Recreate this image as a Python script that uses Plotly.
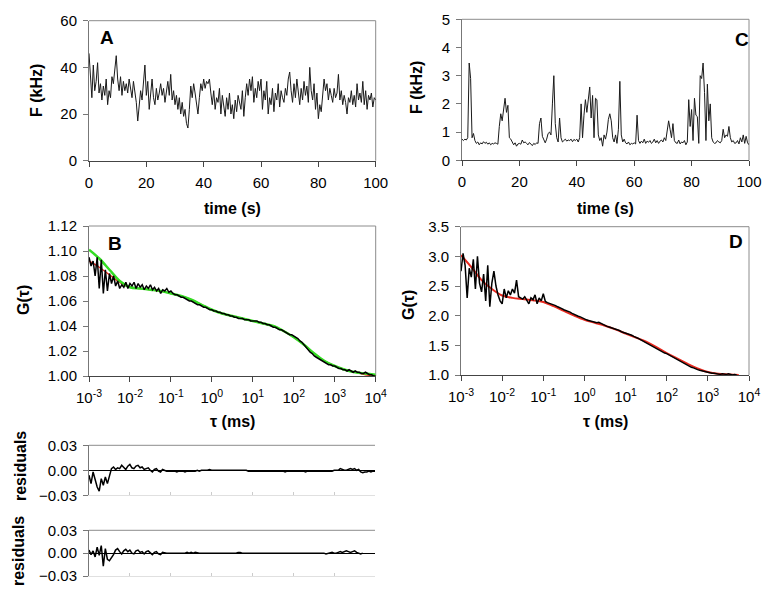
import numpy as np
import plotly.graph_objects as go

# ---------------- data ----------------
# Panel A: fluorescence trace (kHz), 0.5 s steps
trace_A = [46, 38, 27, 41, 30, 34, 42, 29, 33, 26,
           32, 28, 35, 24, 30, 27, 36, 33, 38, 45,
           35, 30, 36, 28, 34, 30, 33, 29, 35, 31,
           27, 34, 30, 25, 17, 23, 30, 26, 33, 41,
           28, 34, 22, 30, 35, 27, 24, 31, 26, 29,
           33, 28, 31, 25, 30, 34, 28, 37, 26, 30,
           24, 28, 22, 27, 20, 25, 19, 22, 16, 14,
           22, 32, 27, 33, 29, 25, 20, 27, 33, 30,
           35, 31, 34, 33, 35, 29, 24, 30, 22, 27,
           25, 31, 20, 28, 24, 19, 27, 22, 29, 20,
           24, 18, 26, 21, 28, 25, 22, 30, 19, 27,
           33, 28, 35, 30, 36, 25, 31, 27, 34, 30,
           35, 22, 30, 26, 34, 20, 27, 24, 31, 21,
           29, 26, 33, 23, 30, 27, 25, 31, 28, 35,
           38, 30, 25, 33, 27, 35, 29, 24, 31, 26,
           34, 28, 32, 25, 40, 30, 26, 33, 22, 29,
           18, 24, 21, 27, 35, 30, 33, 26, 31, 28,
           25, 31, 27, 29, 37, 26, 30, 24, 28, 25,
           20, 27, 25, 30, 24, 28, 23, 33, 26, 29,
           25, 34, 24, 30, 22, 28, 26, 29, 23, 27,
           26]

# Panel C: fluorescence trace (kHz), 0.5 s steps
trace_C = [0.75, 0.70, 0.75, 0.72, 0.80, 3.45, 2.90, 0.80, 0.95, 0.70,
           0.60, 0.65, 0.55, 0.62, 0.58, 0.66, 0.60, 0.64, 0.57, 0.62,
           0.55, 0.60, 0.58, 0.62, 0.60, 0.57, 1.20, 1.65, 1.40, 1.80,
           2.20, 1.70, 1.95, 0.80, 0.75, 0.65, 0.55, 0.62, 0.50, 0.58,
           0.60, 0.57, 0.72, 0.62, 0.65, 0.60, 0.55, 0.63, 0.58, 0.52,
           0.60, 0.56, 0.62, 0.60, 1.30, 1.50, 0.85, 0.70, 0.62, 0.75,
           0.95, 1.00, 0.90, 2.00, 3.00, 1.30, 0.80, 0.65, 1.50, 0.80,
           0.65, 0.70, 0.75, 0.68, 0.72, 0.70, 0.75, 0.66, 0.74, 0.70,
           0.75, 0.65, 0.80, 2.00, 0.80, 1.60, 2.15, 1.70, 2.30, 2.60,
           1.50, 2.30, 0.80, 2.20, 2.15, 0.90, 0.70, 0.80, 0.50, 0.90,
           0.75, 1.00, 1.45, 1.65, 1.40, 0.80, 0.65, 0.90, 0.60, 1.10,
           2.80, 0.90, 0.65, 0.75, 0.62, 0.58, 0.65, 0.55, 0.60, 0.58,
           0.62, 0.58, 1.60, 0.70, 0.60, 0.68, 0.62, 0.75, 0.60, 0.68,
           0.64, 0.70, 0.60, 0.65, 0.75, 0.62, 0.70, 0.60, 0.68, 0.72,
           0.65, 0.80, 0.70, 1.00, 1.40, 1.10, 0.80, 1.30, 0.70, 0.62,
           0.60, 0.72, 0.58, 0.65, 0.62, 0.70, 0.55, 0.65, 2.15, 1.20,
           1.80, 0.70, 2.20, 1.60, 1.55, 0.60, 3.00, 2.90, 3.45, 2.40,
           0.70, 2.70, 1.40, 2.00, 0.80, 0.65, 0.60, 0.62, 0.70, 0.65,
           0.62, 0.70, 1.10, 0.80, 0.90, 0.85, 1.20, 0.80, 0.65, 0.70,
           0.60, 0.62, 0.70, 0.58, 0.80, 0.65, 0.90, 0.60, 0.85, 0.62,
           0.55]

# Panel B: correlation data (0.05-decade steps from 1e-3 ms)
G_B = [1.095, 1.088, 1.092, 1.080, 1.095, 1.070, 1.093, 1.066, 1.085, 1.068,
       1.082, 1.074, 1.080, 1.072, 1.076, 1.070, 1.073, 1.071, 1.075, 1.070,
       1.074,
       1.072, 1.075, 1.070, 1.074, 1.071, 1.073, 1.069, 1.072, 1.070, 1.073,
       1.069, 1.071, 1.068, 1.070, 1.066, 1.069, 1.068, 1.070, 1.067, 1.068,
       1.066, 1.065, 1.065, 1.064, 1.063, 1.063, 1.062, 1.061, 1.060, 1.060,
       1.059, 1.058, 1.057, 1.057, 1.056, 1.055, 1.055, 1.054, 1.053, 1.053,
       1.052, 1.052, 1.051, 1.051, 1.050, 1.050, 1.049, 1.049, 1.048, 1.048,
       1.047, 1.047, 1.046, 1.046, 1.046, 1.045, 1.045, 1.045, 1.044, 1.044,
       1.044, 1.044, 1.043, 1.043, 1.042, 1.042, 1.041, 1.041, 1.040, 1.039,
       1.039, 1.038, 1.037, 1.037, 1.036, 1.035, 1.034, 1.033, 1.033, 1.032,
       1.031, 1.030, 1.028, 1.027, 1.025, 1.023, 1.021, 1.019, 1.018, 1.016,
       1.015, 1.014, 1.013, 1.012, 1.011, 1.010, 1.009, 1.009, 1.008, 1.008,
       1.007, 1.006, 1.006, 1.005, 1.005, 1.004, 1.005, 1.004, 1.003, 1.004,
       1.003, 1.003, 1.002, 1.002, 1.003, 1.002, 1.001, 1.001, 1.000, 1.000]

# Panel B fits (0.25-decade steps from 1e-3 ms)
fit_B_green = [1.101, 1.094, 1.085, 1.076, 1.071, 1.070, 1.069, 1.068, 1.066,
               1.064, 1.061, 1.057, 1.053, 1.050, 1.048, 1.046, 1.044, 1.042,
               1.040, 1.036, 1.031, 1.025, 1.018, 1.012, 1.008, 1.005, 1.003,
               1.002, 1.001]
fit_B_red = [1.092, 1.087, 1.081, 1.075, 1.071, 1.070, 1.069, 1.068, 1.066,
             1.064, 1.061, 1.057, 1.053, 1.050, 1.048, 1.046, 1.044, 1.042,
             1.040, 1.036, 1.031, 1.025, 1.018, 1.012, 1.008, 1.005, 1.003,
             1.001, 1.000]

# Panel D: correlation data (0.05-decade steps from 1e-3 ms)
G_D = [2.75, 3.05, 2.85, 2.30, 2.80, 2.65, 2.95, 2.45, 3.00, 2.55,
       2.40, 2.70, 2.25, 2.85, 2.15, 2.55, 2.75, 2.50, 2.35, 2.25,
       2.20, 2.45, 2.30, 2.42, 2.35, 2.45, 2.38, 2.60, 2.32, 2.30,
       2.28, 2.32, 2.25, 2.20, 2.30, 2.27, 2.35, 2.20, 2.30, 2.25,
       2.37, 2.24, 2.22, 2.21, 2.20, 2.18,
       2.17, 2.15, 2.14, 2.12, 2.10, 2.09, 2.07, 2.06, 2.04, 2.02,
       2.01, 1.99, 1.98, 1.96, 1.94,
       1.93, 1.92, 1.91, 1.90, 1.89, 1.88, 1.89, 1.87, 1.85, 1.83,
       1.82, 1.81, 1.80, 1.78, 1.77, 1.76, 1.75, 1.73, 1.72, 1.70,
       1.69, 1.68, 1.67, 1.65, 1.64, 1.62, 1.60, 1.58, 1.57, 1.55,
       1.53, 1.51, 1.49, 1.47, 1.45, 1.43, 1.41, 1.39, 1.37, 1.36,
       1.34, 1.32, 1.30, 1.28, 1.26, 1.24, 1.22, 1.20, 1.18, 1.17,
       1.15, 1.13, 1.12, 1.10, 1.09, 1.08, 1.07, 1.06, 1.05, 1.05,
       1.04, 1.03, 1.03, 1.02, 1.02, 1.01, 1.02, 1.01, 1.01, 1.02,
       1.01, 1.00, 1.01, 1.00]

# Panel D fit (0.25-decade steps from 1e-3 ms)
fit_D_red = [3.02, 2.82, 2.60, 2.45, 2.34, 2.30, 2.28, 2.26, 2.23, 2.16,
             2.08, 2.00, 1.93, 1.88, 1.83, 1.77, 1.70, 1.63, 1.56, 1.47,
             1.37, 1.28, 1.19, 1.11, 1.05, 1.02, 1.01, 1.00]

# Residuals (same grid as G_B)
res_1 = [-0.006, -0.016, -0.002, -0.013, -0.020, -0.025, -0.010, -0.018, -0.008, -0.016,
         -0.005,
         0.002, 0.004, 0.001, 0.003, 0.002, 0.006, 0.003, 0.001, 0.005, 0.007,
         0.003, 0.002, 0.005, 0.006, 0.003, 0.004, 0.001, 0.002, 0.003, 0.000,
         -0.002, 0.001, 0.002, -0.001, -0.002, 0.001, 0.000, -0.001, -0.001, -0.001,
         -0.001, -0.001, -0.002, -0.001, -0.001, -0.001, -0.002, -0.001, -0.001, -0.001,
         -0.001, -0.001, 0.000, -0.001, 0.000, 0.000, 0.000, 0.000, 0.001, 0.000,
         0.000, 0.000, 0.000, 0.000, 0.000, 0.000, 0.000, 0.000, 0.000, 0.000,
         0.000, 0.000, 0.000, 0.000, 0.000, 0.000, 0.000, -0.001, -0.001, -0.001,
         -0.001, -0.001, -0.001, -0.001, -0.001, -0.001, -0.001, -0.001, -0.001, -0.001,
         -0.001, -0.001, -0.001, -0.001, -0.001, -0.002, -0.001, -0.001, -0.001, -0.001,
         -0.001, -0.001, -0.001, -0.001, -0.001, -0.002, -0.001, -0.001, -0.001, -0.001,
         -0.001, -0.001, -0.001, -0.001, -0.001, -0.001, -0.001, -0.001, -0.001, 0.000,
         0.000, 0.000, 0.002, 0.001, 0.000, 0.000, 0.001, 0.002, 0.001, 0.002,
         0.000, 0.001, -0.002, -0.003, -0.002, -0.002, -0.001, -0.002, -0.001, -0.001]

res_2 = [0.004, -0.002, 0.003, -0.005, 0.008, -0.003, 0.010, -0.017, 0.006, -0.008,
         -0.010, -0.006, -0.002,
         0.004, 0.006, 0.002, -0.001, 0.003, 0.005, 0.002, 0.004, 0.000, -0.001,
         0.003, 0.004, 0.001, 0.002, -0.001, 0.002, 0.003, 0.000, -0.002, 0.001,
         0.002, -0.001, -0.002, 0.001, 0.000, 0.000,
         0.000, 0.000, 0.000, 0.000, 0.000, 0.000, 0.000, 0.000, 0.000, 0.001,
         0.000, 0.001, 0.000, 0.001, 0.000, 0.000, 0.000, 0.000, 0.000, 0.000,
         0.000, 0.000, 0.000, 0.000, 0.000, 0.000, 0.000, 0.000, 0.000, 0.000,
         0.000, 0.000, 0.000, 0.000, 0.001, 0.001, 0.000, 0.000, 0.000, 0.000,
         0.000, 0.000, 0.000, 0.000, 0.000, 0.000, 0.000, 0.000, 0.000, 0.000,
         0.000, 0.000, 0.000, 0.000, 0.000, 0.000, 0.000, 0.000, 0.000, 0.000,
         0.000, 0.000, 0.000, 0.000, 0.000, 0.000, 0.000, 0.000, 0.000, 0.000,
         0.000, 0.000, 0.000, 0.000, 0.000, 0.000, 0.000, -0.001, 0.000, 0.000,
         0.001, 0.000, 0.000, 0.001, 0.002, 0.001, 0.002, 0.003, 0.002, 0.001,
         0.002, 0.003, 0.001, 0.000, -0.001, 0.000]

time_ticks = [0, 20, 40, 60, 80, 100]
tau_ticks = [1e-3, 1e-2, 1e-1, 1, 10, 100, 1000, 10000]
tau_ticktext = ["10<sup>-3</sup>", "10<sup>-2</sup>", "10<sup>-1</sup>", "10<sup>0</sup>",
                "10<sup>1</sup>", "10<sup>2</sup>", "10<sup>3</sup>", "10<sup>4</sup>"]


def time_axis(vals, step=0.5):
    return [i * step for i in range(len(vals))]


def tau_axis(vals, step):
    return list(np.logspace(-3, -3 + step * (len(vals) - 1), len(vals)))


# ---------------- figure ----------------
OFF = 8  # page body margin
W, H = 773 - 2 * OFF + 8, 597 - 2 * OFF + 8
FONT = "Liberation Sans, Arial, sans-serif"
fig = go.Figure()


def px_x(a, b):
    return [(a - OFF) / W, (b - OFF) / W]


def px_y(top, bottom):
    return [1 - (bottom - OFF) / H, 1 - (top - OFF) / H]


fig.add_trace(go.Scatter(x=time_axis(trace_A), y=trace_A, mode="lines",
                         line=dict(color="#1a1a1a", width=1), xaxis="x", yaxis="y"))
fig.add_trace(go.Scatter(x=time_axis(trace_C), y=trace_C, mode="lines",
                         line=dict(color="#1a1a1a", width=1), xaxis="x2", yaxis="y2"))
fig.add_trace(go.Scatter(x=tau_axis(fit_B_red, 0.25), y=fit_B_red, mode="lines",
                         line=dict(color="#e8281e", width=1.5, shape="spline"), xaxis="x3", yaxis="y3"))
fig.add_trace(go.Scatter(x=tau_axis(fit_B_green, 0.25), y=fit_B_green, mode="lines",
                         line=dict(color="#33dd22", width=2.5, shape="spline"), xaxis="x3", yaxis="y3"))
fig.add_trace(go.Scatter(x=tau_axis(G_B, 0.05), y=G_B, mode="lines",
                         line=dict(color="#000000", width=1.5), xaxis="x3", yaxis="y3"))
fig.add_trace(go.Scatter(x=tau_axis(fit_D_red, 0.25), y=fit_D_red, mode="lines",
                         line=dict(color="#e8281e", width=2, shape="spline"), xaxis="x4", yaxis="y4"))
fig.add_trace(go.Scatter(x=tau_axis(G_D, 0.05), y=G_D, mode="lines",
                         line=dict(color="#000000", width=1.5), xaxis="x4", yaxis="y4"))
fig.add_trace(go.Scatter(x=tau_axis(res_1, 0.05), y=res_1, mode="lines",
                         line=dict(color="#000000", width=1.5), xaxis="x5", yaxis="y5"))
fig.add_trace(go.Scatter(x=tau_axis(res_2, 0.05), y=res_2, mode="lines",
                         line=dict(color="#000000", width=1.5), xaxis="x6", yaxis="y6"))

tickfont = dict(family=FONT, size=15, color="#000")
common_x = dict(showgrid=False, zeroline=False, showline=True, linecolor="#444", linewidth=1,
                ticks="outside", ticklen=5, tickcolor="#444", tickfont=tickfont,
                ticklabelstandoff=3, automargin=False)
common_y = dict(showgrid=False, zeroline=False, showline=True, linecolor="#777", linewidth=1,
                ticks="outside", ticklen=5, tickcolor="#777", tickfont=tickfont,
                ticklabelstandoff=3, automargin=False)

layout = dict(
    width=W, height=H, margin=dict(l=0, r=0, t=0, b=0, pad=0, autoexpand=False),
    paper_bgcolor="white", plot_bgcolor="white", showlegend=False,
    font=dict(family=FONT, size=15, color="#000"),
)
# A
layout["xaxis"] = dict(common_x, domain=px_x(89, 375.7), range=[0, 100], tickvals=time_ticks, anchor="y")
layout["yaxis"] = dict(common_y, domain=px_y(20.7, 160.7), range=[0, 60], tickvals=[0, 20, 40, 60], anchor="x")
# C
layout["xaxis2"] = dict(common_x, domain=px_x(462, 749), range=[0, 100], tickvals=time_ticks, anchor="y2")
layout["yaxis2"] = dict(common_y, domain=px_y(19.3, 160.3), range=[0, 5], tickvals=[0, 1, 2, 3, 4, 5], anchor="x2")
# B
layout["xaxis3"] = dict(common_x, domain=px_x(89, 375.7), type="log", range=[-3, 4],
                        tickvals=tau_ticks, ticktext=tau_ticktext, anchor="y3")
layout["yaxis3"] = dict(common_y, domain=px_y(226, 376), range=[1.0, 1.12],
                        tickvals=[1.00, 1.02, 1.04, 1.06, 1.08, 1.10, 1.12], tickformat=".2f", anchor="x3")
# D
layout["xaxis4"] = dict(common_x, domain=px_x(461, 749), type="log", range=[-3, 4],
                        tickvals=tau_ticks, ticktext=tau_ticktext, anchor="y4")
layout["yaxis4"] = dict(common_y, domain=px_y(226.7, 375), range=[1.0, 3.5],
                        tickvals=[1.0, 1.5, 2.0, 2.5, 3.0, 3.5], tickformat=".1f", anchor="x4")
# residuals
for i, (top, bot) in zip((5, 6), ((445.3, 495.3), (530.3, 576))):
    layout[f"xaxis{i}"] = dict(showgrid=False, zeroline=False, showline=True, linecolor="#e0e0e0",
                               ticks="inside", ticklen=3, tickcolor="#cccccc", type="log", range=[-3, 4],
                               tickvals=tau_ticks, showticklabels=False, domain=px_x(89, 375),
                               anchor=f"y{i}", automargin=False)
    layout[f"yaxis{i}"] = dict(common_y, domain=px_y(top, bot), range=[-0.03, 0.03],
                               tickvals=[-0.03, 0.0, 0.03], tickformat=".2f",
                               zeroline=True, zerolinecolor="#000", zerolinewidth=1, anchor=f"x{i}")
fig.update_layout(**layout)

# box borders (top / right) in gray
shapes = []
for xa, ya in (("x", "y"), ("x2", "y2"), ("x3", "y3"), ("x4", "y4")):
    shapes.append(dict(type="line", xref=f"{xa} domain", yref=f"{ya} domain", x0=0, x1=1, y0=1, y1=1,
                       line=dict(color="#8c8c8c", width=1), layer="below"))
    shapes.append(dict(type="line", xref=f"{xa} domain", yref=f"{ya} domain", x0=1, x1=1, y0=0, y1=1,
                       line=dict(color="#8c8c8c", width=1), layer="below"))
for xa, ya in (("x5", "y5"), ("x6", "y6")):
    shapes.append(dict(type="line", xref=f"{xa} domain", yref=f"{ya} domain", x0=0, x1=1, y0=1, y1=1,
                       line=dict(color="#8c8c8c", width=1), layer="below"))
fig.update_layout(shapes=shapes)

annots = []


def ann(text, x, y, size=16, angle=0, bold=True, xanchor="center"):
    annots.append(dict(text=f"<b>{text}</b>" if bold else text, x=(x - OFF) / W, y=1 - (y - OFF) / H,
                       xref="paper", yref="paper", showarrow=False, textangle=angle,
                       xanchor=xanchor, yanchor="middle",
                       font=dict(family=FONT, size=size, color="#000")))


ann("A", 107, 37, size=19)
ann("C", 742, 40, size=19)
ann("B", 115, 243, size=19)
ann("D", 736, 242, size=19)
ann("F (kHz)", 37, 90, angle=-90)
ann("F (kHz)", 417, 88, angle=-90)
ann("G(τ)", 23, 300, angle=-90)
ann("G(τ)", 408, 305, angle=-90)
ann("time (s)", 232, 208)
ann("time (s)", 605, 208)
ann("τ (ms)", 232, 421)
ann("τ (ms)", 605, 421)
ann("residuals", 20, 466, angle=-90)
ann("residuals", 18, 551, angle=-90)
fig.update_layout(annotations=annots)

fig.write_html("out.html")
